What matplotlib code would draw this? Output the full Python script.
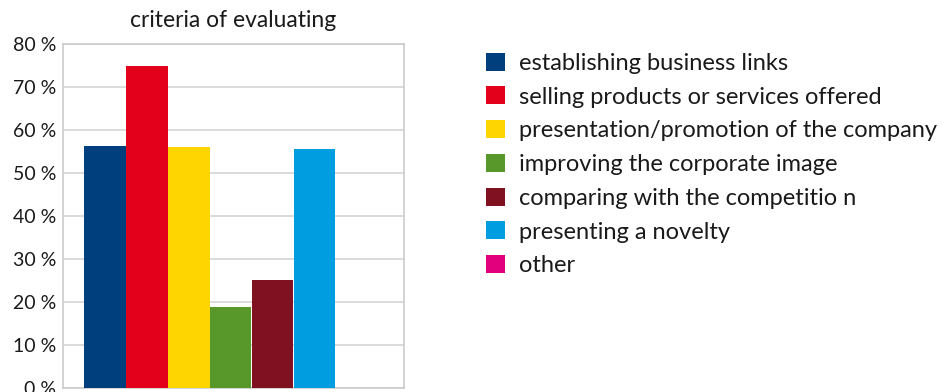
import numpy as np
import matplotlib.pyplot as plt
from matplotlib.patches import Patch

# criteria shares (percent)
criteria = ['establishing business links',
            'selling products or services offered',
            'presentation/promotion of the company',
            'improving the corporate image',
            'comparing with the competitio n',
            'presenting a novelty',
            'other']
share = [56.3, 74.7, 56.0, 18.8, 25.1, 55.6, 0.0]
colors = ['#003f7d', '#e2001a', '#ffd500', '#58982a', '#7f1120', '#009ee0', '#e3007d']
yticks = [0, 10, 20, 30, 40, 50, 60, 70, 80]

plt.rcParams['font.family'] = ['Lato', 'DejaVu Sans']

fig = plt.figure(figsize=(9.47, 3.92), dpi=100)
ax = fig.add_axes([0.0665, 0.0102, 0.36, 0.8788])

x = np.arange(len(share))
ax.bar(x, share, width=0.98, color=colors, zorder=3)
ax.set_xlim(-1.0, 7.12)
ax.set_ylim(0, 80)
ax.set_yticks(yticks)
ax.set_yticklabels([f'{t} %' for t in yticks], fontsize=14, color='#1a1a1a')
ax.set_xticks([])
ax.tick_params(axis='y', length=0, pad=5)
ax.grid(axis='y', color='#d4d4d4', linewidth=1.2, zorder=0)
for s in ax.spines.values():
    s.set_color('#cccccc')
    s.set_linewidth(1.2)
ax.set_title('criteria of evaluating', fontsize=16.5, color='#1a1a1a', pad=12)

# legend
handles = [Patch(facecolor=c, edgecolor='none') for c in colors]
fig.legend(handles, criteria, loc='upper left', bbox_to_anchor=(0.5035, 0.89),
           frameon=False, fontsize=17, handlelength=0.8, handleheight=0.8,
           handletextpad=0.6, labelspacing=0.53, borderaxespad=0,
           labelcolor='#1a1a1a')

plt.savefig('out.png', dpi=100)
